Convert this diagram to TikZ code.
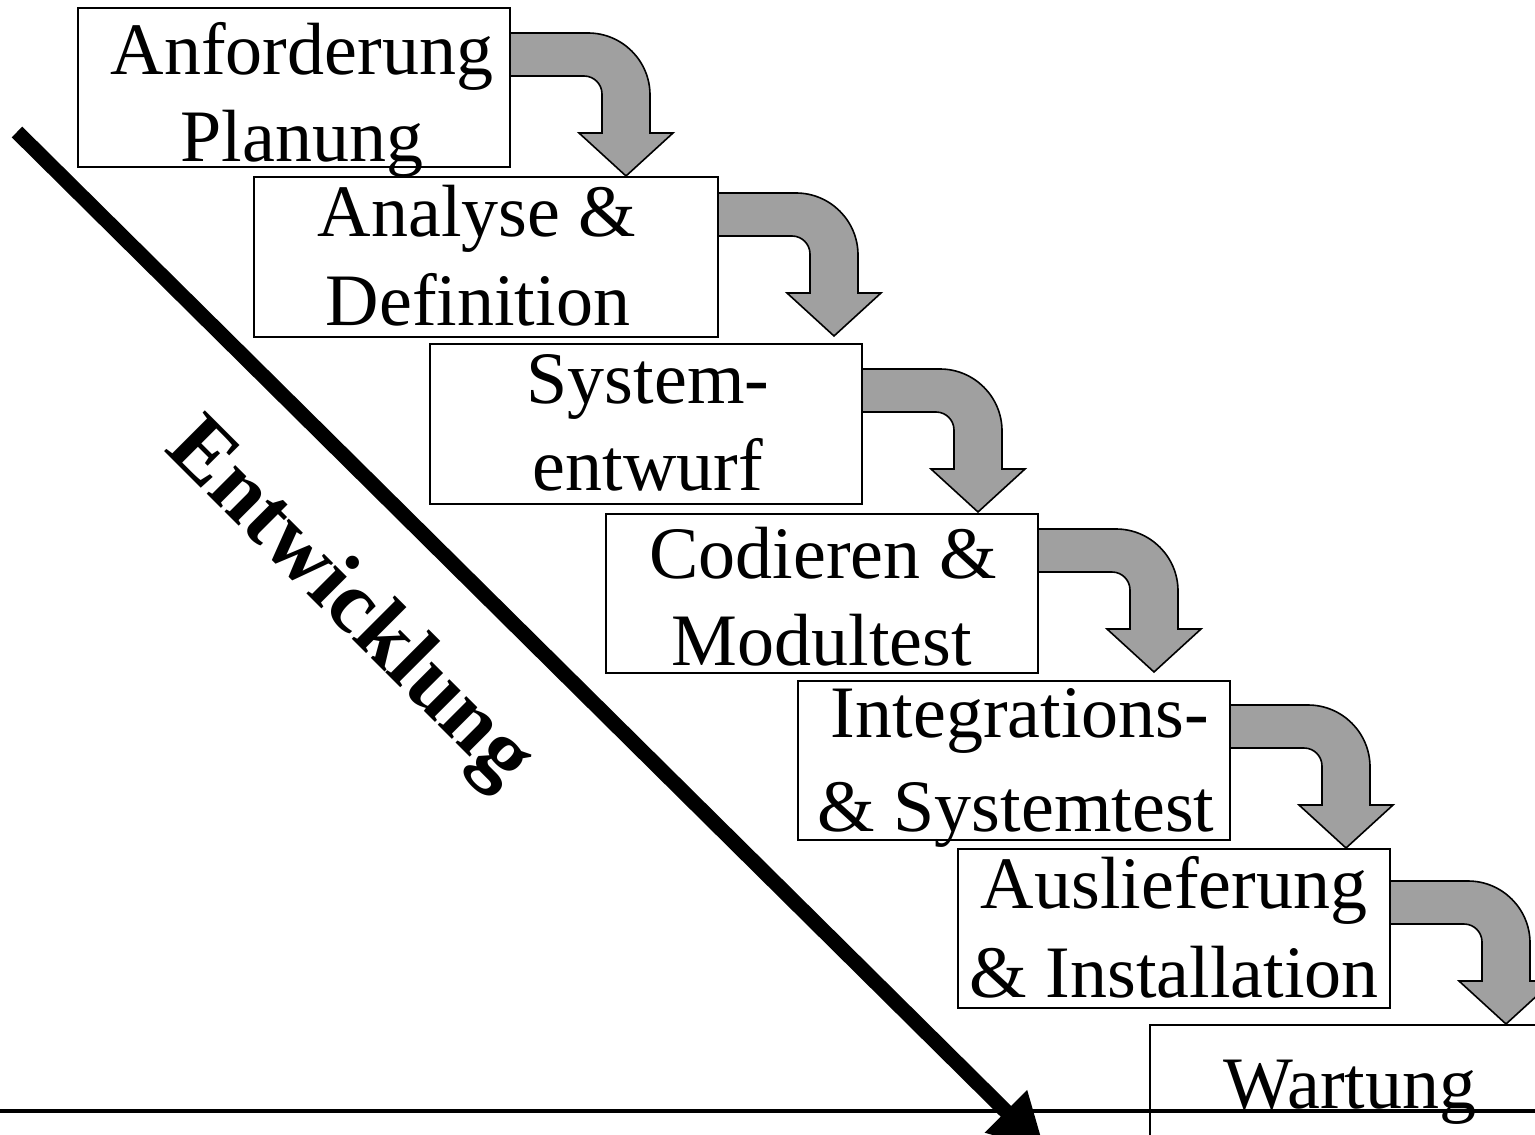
\documentclass[tikz,border=0pt]{standalone}
\usepackage{fontspec}
\setmainfont{Liberation Serif}
\usetikzlibrary{arrows.meta}
\definecolor{arrowgray}{RGB}{160,160,160}
\tikzset{
  stagebox/.style={draw=black, line width=1pt, rectangle, inner sep=0pt, outer sep=0pt, anchor=north west},
  stagetext/.style={anchor=base, inner sep=0pt, font=\fontsize{37}{44}\selectfont},
  flowarrow/.style={draw=black, fill=arrowgray, line width=0.8pt, line join=miter},
  devarrow/.style={line width=7.5pt, -{Triangle[length=27.5pt,width=28pt]}},
  baseline rule/.style={line width=2pt},
}
% bent block arrow leaving the right edge of a stage box;
% #1 = box name, #2 = offset of the band below the box top
\newcommand\bendarrow[2]{%
  \begin{scope}[shift={(#1.north east)}, shift={(0,#2)}]
    \draw[flowarrow] (0,0) -- (78,0)
      .. controls (112.2,0) and (140,27.8) .. (140,62)
      -- (140,100) -- (163,100) -- (116,143) -- (69,100) -- (92,100) -- (92,61)
      .. controls (92,51.1) and (83.9,43) .. (74,43)
      -- (0,43) -- cycle;
  \end{scope}}
\begin{document}
\begin{tikzpicture}[x=0.5pt, y=-0.5pt]
\useasboundingbox (0,0) rectangle (1535,1134);
\clip (0,0) rectangle (1535,1134);

% stage boxes
\node[stagebox, minimum width=216pt, minimum height=79.5pt] (b1) at (78,8) {};
\node[stagebox, minimum width=232pt, minimum height=80pt]   (b2) at (254,177) {};
\node[stagebox, minimum width=216pt, minimum height=80pt]   (b3) at (430,344) {};
\node[stagebox, minimum width=216pt, minimum height=79.5pt] (b4) at (606,514) {};
\node[stagebox, minimum width=216pt, minimum height=79.5pt] (b5) at (798,681) {};
\node[stagebox, minimum width=216pt, minimum height=79.5pt] (b6) at (958,849) {};
\node[stagebox, minimum width=216pt, minimum height=79.5pt] (b7) at (1150,1025) {};

% arrows from one stage to the next
\bendarrow{b1}{25}
\bendarrow{b2}{16}
\bendarrow{b3}{25}
\bendarrow{b4}{15}
\bendarrow{b5}{24}
\bendarrow{b6}{32}

% stage labels
\node[stagetext] (l1a) at (302,75)  {Anforderung};
\node[stagetext] (l1b) at (302,162) {Planung};
\node[stagetext] (l2a) at (477,236) {Analyse \&};
\node[stagetext] (l2b) at (478,325) {Definition};
\node[stagetext] (l3a) at (648,403) {System-};
\node[stagetext] (l3b) at (648,490) {entwurf};
\node[stagetext] (l4a) at (823,578) {Codieren \&};
\node[stagetext] (l4b) at (822,665) {Modultest};
\node[stagetext] (l5a) at (1020,737) {Integrations-};
\node[stagetext] (l5b) at (1016,831) {\& Systemtest};
\node[stagetext] (l6a) at (1174,908) {Auslieferung};
\node[stagetext] (l6b) at (1174,997) {\& Installation};
\node[stagetext] (l7a) at (1350,1108) {Wartung};

% development direction
\coordinate (dstart) at (17,132);
\coordinate (dend) at (1045,1150);
\draw[devarrow] (dstart) -- (dend);
\node[rotate=-45, anchor=base, inner sep=0pt, font=\bfseries\fontsize{44}{50}\selectfont] (dev) at (333,620) {Entwicklung};

% base line
\coordinate (hl) at (0,1111);
\coordinate (hr) at (1535,1111);
\draw[baseline rule] (hl) -- (hr);
\end{tikzpicture}
\end{document}
